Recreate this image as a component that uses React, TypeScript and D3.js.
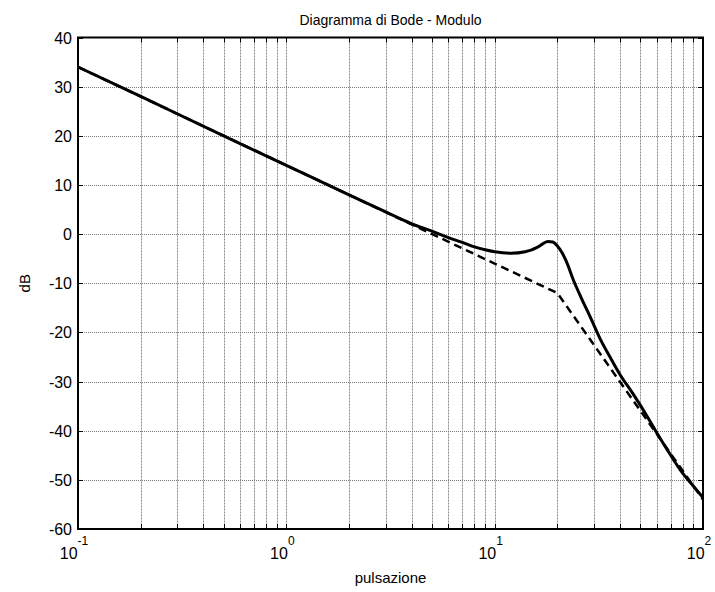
import React, { useEffect, useRef } from 'react';
import * as d3 from 'd3';

// pulsazione (rad/s) and modulo (dB)
const exactW = [0.1, 0.2, 0.5, 1, 2, 3, 4, 5, 6, 7, 8, 9, 10, 12, 14, 16, 17, 18, 19, 20, 21, 22, 24, 26, 29, 32, 36, 40, 46, 50, 59, 69, 80, 90, 100];
const exactDb = [34.0, 28.0, 20.0, 14.0, 8.0, 4.5, 2.1, 0.6, -0.7, -1.7, -2.6, -3.2, -3.6, -3.9, -3.6, -2.7, -2.0, -1.5, -1.6, -2.4, -3.7, -5.4, -9.6, -12.9, -17.2, -21.2, -25.2, -28.6, -32.4, -34.8, -39.9, -44.6, -48.7, -51.3, -53.6];

// asymptotic diagram
const asymW = [0.1, 1, 10, 20, 100];
const asymDb = [34, 14, -6, -12, -54];

const xMajor = [0.1, 1, 10, 100];
const xExp = ['-1', '0', '1', '2'];
const yTicks = [-60, -50, -40, -30, -20, -10, 0, 10, 20, 30, 40];

const title = 'Diagramma di Bode - Modulo';
const xLabel = 'pulsazione';
const yLabel = 'dB';

function BodeChart() {
  const ref = useRef<SVGSVGElement>(null);

  useEffect(() => {
    const W = 715;
    const H = 592;
    const margin = { top: 37.5, right: 12, bottom: 63, left: 78 };
    const x0 = margin.left;
    const x1 = W - margin.right;
    const y0 = margin.top;
    const y1 = H - margin.bottom;
    const font = 'Arial, "Liberation Sans", sans-serif';

    const svg = d3.select(ref.current);
    svg.selectAll('*').remove();
    svg.append('rect').attr('width', W).attr('height', H).attr('fill', '#fff');

    const x = d3.scaleLog().domain([0.1, 100]).range([x0, x1]);
    const y = d3.scaleLinear().domain([-60, 40]).range([y1, y0]);

    const xGrid = x.ticks();

    // grid
    svg.append('g')
      .attr('stroke', '#8a8a8a')
      .attr('stroke-dasharray', '2,1')
      .selectAll('line')
      .data(xGrid.filter(d => d > 0.1 && d < 100))
      .join('line')
      .attr('x1', d => Math.round(x(d)) + 0.5)
      .attr('x2', d => Math.round(x(d)) + 0.5)
      .attr('y1', y0)
      .attr('y2', y1);
    svg.append('g')
      .attr('stroke', '#7a7a7a')
      .attr('stroke-dasharray', '1,1')
      .selectAll('line')
      .data(yTicks.filter(d => d > -60 && d < 40))
      .join('line')
      .attr('y1', d => Math.round(y(d)) + 0.5)
      .attr('y2', d => Math.round(y(d)) + 0.5)
      .attr('x1', x0)
      .attr('x2', x1);

    // inner ticks
    const tl = 5;
    const ticks = svg.append('g').attr('stroke', '#000').attr('stroke-width', 1);
    xGrid.forEach(d => {
      const px = Math.round(x(d)) + 0.5;
      ticks.append('line').attr('x1', px).attr('x2', px).attr('y1', y1).attr('y2', y1 - tl);
      ticks.append('line').attr('x1', px).attr('x2', px).attr('y1', y0).attr('y2', y0 + tl);
    });
    yTicks.forEach(d => {
      const py = Math.round(y(d)) + 0.5;
      ticks.append('line').attr('x1', x0).attr('x2', x0 + tl).attr('y1', py).attr('y2', py);
      ticks.append('line').attr('x1', x1).attr('x2', x1 - tl).attr('y1', py).attr('y2', py);
    });

    // curves
    const line = d3.line<[number, number]>()
      .x(d => x(d[0]))
      .y(d => y(d[1]));

    svg.append('path')
      .datum(asymW.map((w, i) => [w, asymDb[i]] as [number, number]))
      .attr('d', line)
      .attr('fill', 'none')
      .attr('stroke', '#000')
      .attr('stroke-width', 2.5)
      .attr('stroke-dasharray', '8,5');

    svg.append('path')
      .datum(exactW.map((w, i) => [w, exactDb[i]] as [number, number]))
      .attr('d', line.curve(d3.curveMonotoneX))
      .attr('fill', 'none')
      .attr('stroke', '#000')
      .attr('stroke-width', 3)
      .attr('stroke-linejoin', 'round');

    // box
    svg.append('rect')
      .attr('x', x0).attr('y', y0)
      .attr('width', x1 - x0).attr('height', y1 - y0)
      .attr('fill', 'none')
      .attr('stroke', '#000')
      .attr('stroke-width', 2);

    // y tick labels
    svg.selectAll('.yl')
      .data(yTicks)
      .join('text')
      .attr('x', x0 - 6)
      .attr('y', d => y(d) + 6)
      .attr('text-anchor', 'end')
      .attr('font-family', font)
      .attr('font-size', 16)
      .text(d => d);

    // x tick labels 10^n
    xMajor.forEach((d, i) => {
      const t = svg.append('text')
        .attr('x', x(d) - 4)
        .attr('y', y1 + 30)
        .attr('text-anchor', 'middle')
        .attr('font-family', font)
        .attr('font-size', 16);
      t.append('tspan').text('10');
      t.append('tspan').attr('dy', -14).attr('font-size', 12).text(xExp[i]);
    });

    svg.append('text')
      .attr('x', (x0 + x1) / 2)
      .attr('y', 25)
      .attr('text-anchor', 'middle')
      .attr('font-family', font)
      .attr('font-size', 14)
      .text(title);

    svg.append('text')
      .attr('x', (x0 + x1) / 2)
      .attr('y', 583)
      .attr('text-anchor', 'middle')
      .attr('font-family', font)
      .attr('font-size', 15)
      .text(xLabel);

    svg.append('text')
      .attr('transform', `translate(30, ${(y0 + y1) / 2}) rotate(-90)`)
      .attr('text-anchor', 'middle')
      .attr('font-family', font)
      .attr('font-size', 15)
      .text(yLabel);
  }, []);

  return <svg ref={ref} width={715} height={592} style={{ position: 'absolute', left: 0, top: 0 }} />;
}

export default function App() {
  return <BodeChart />;
}
